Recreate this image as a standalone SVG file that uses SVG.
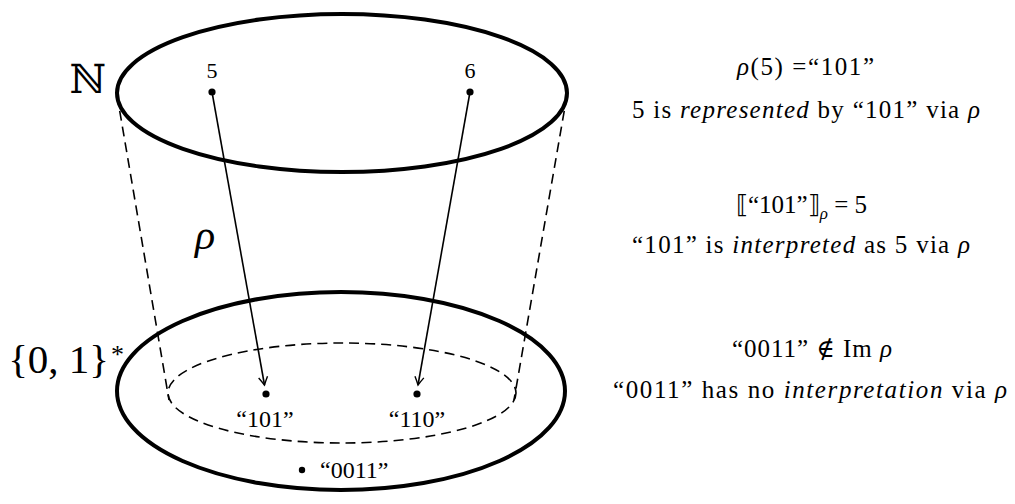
<svg xmlns="http://www.w3.org/2000/svg" width="1015" height="504" viewBox="0 0 1015 504">
<style>
.set{fill:none;stroke:#000;stroke-width:4}
.dash{fill:none;stroke:#000;stroke-width:1.6;stroke-dasharray:10 6}
.arr{fill:none;stroke:#000;stroke-width:1.6}
.t{font-family:"Liberation Serif","DejaVu Serif",serif;fill:#000}
.r{font-size:25px}
</style>
<defs>
<marker id="ah" viewBox="-10 -6 12 12" markerWidth="12" markerHeight="12" refX="0" refY="0" orient="auto" markerUnits="userSpaceOnUse">
<path d="M-8,-4.5 Q-3,-1.5 0,0 Q-3,1.5 -8,4.5" fill="none" stroke="#000" stroke-width="1.4"/>
</marker>
</defs>
<rect width="1015" height="504" fill="#fff"/>
<g id="connectors">
<line class="dash" x1="117" y1="95" x2="169" y2="400"/>
<line class="dash" x1="567" y1="95" x2="514" y2="400"/>
<line class="arr" x1="212" y1="92" x2="264.5" y2="385" marker-end="url(#ah)"/>
<line class="arr" x1="470" y1="92" x2="418" y2="385" marker-end="url(#ah)"/>
</g>
<g id="setN">
<ellipse class="set" cx="342" cy="93" rx="225" ry="79"/>
<text class="t" x="106" y="93" font-size="40" text-anchor="end">ℕ</text>
</g>
<g id="setB">
<ellipse class="set" cx="341" cy="391" rx="224" ry="99"/>
<text class="t" x="109" y="373" font-size="41" text-anchor="end">{0, 1}</text>
<text class="t" x="111" y="363" font-size="26">*</text>
</g>
<g id="image">
<ellipse class="dash" cx="342" cy="393" rx="174" ry="50"/>
</g>
<g id="n5">
<circle cx="212" cy="92" r="3.6"/>
<text class="t" x="212" y="78" font-size="22" text-anchor="middle">5</text>
</g>
<g id="n6">
<circle cx="470" cy="92" r="3.6"/>
<text class="t" x="470" y="78" font-size="22" text-anchor="middle">6</text>
</g>
<g id="s101">
<circle cx="266" cy="394" r="3.6"/>
<text class="t" x="265" y="427" font-size="24" text-anchor="middle">“101”</text>
</g>
<g id="s110">
<circle cx="417" cy="394" r="3.6"/>
<text class="t" x="417" y="427" font-size="24" text-anchor="middle">“110”</text>
</g>
<g id="s0011">
<circle cx="302" cy="470" r="3.2"/>
<text class="t" x="320" y="478" font-size="24">“0011”</text>
</g>
<g id="rho">
<text class="t" x="205" y="249" font-size="42" font-style="italic" text-anchor="middle">ρ</text>
</g>
<g id="notes">
<text class="t r" x="737" y="75" textLength="137" lengthAdjust="spacing"><tspan font-style="italic">ρ</tspan>(5) =“101”</text>
<text class="t r" x="632" y="118" textLength="348" lengthAdjust="spacing">5 is <tspan font-style="italic">represented</tspan> by “101” via <tspan font-style="italic">ρ</tspan></text>
<text class="t r" x="736" y="213"><tspan font-family="DejaVu Serif">⟦</tspan>“101”<tspan font-family="DejaVu Serif">⟧</tspan><tspan font-size="17" font-style="italic" dy="6">ρ</tspan><tspan dy="-6"> = 5</tspan></text>
<text class="t r" x="632" y="253" textLength="338" lengthAdjust="spacing">“101” is <tspan font-style="italic">interpreted</tspan> as 5 via <tspan font-style="italic">ρ</tspan></text>
<text class="t r" x="732" y="357" textLength="160" lengthAdjust="spacing">“0011” <tspan font-family="DejaVu Serif">∉</tspan> Im <tspan font-style="italic">ρ</tspan></text>
<text class="t r" x="613" y="398" textLength="394" lengthAdjust="spacing">“0011” has no <tspan font-style="italic">interpretation</tspan> via <tspan font-style="italic">ρ</tspan></text>
</g>
</svg>
